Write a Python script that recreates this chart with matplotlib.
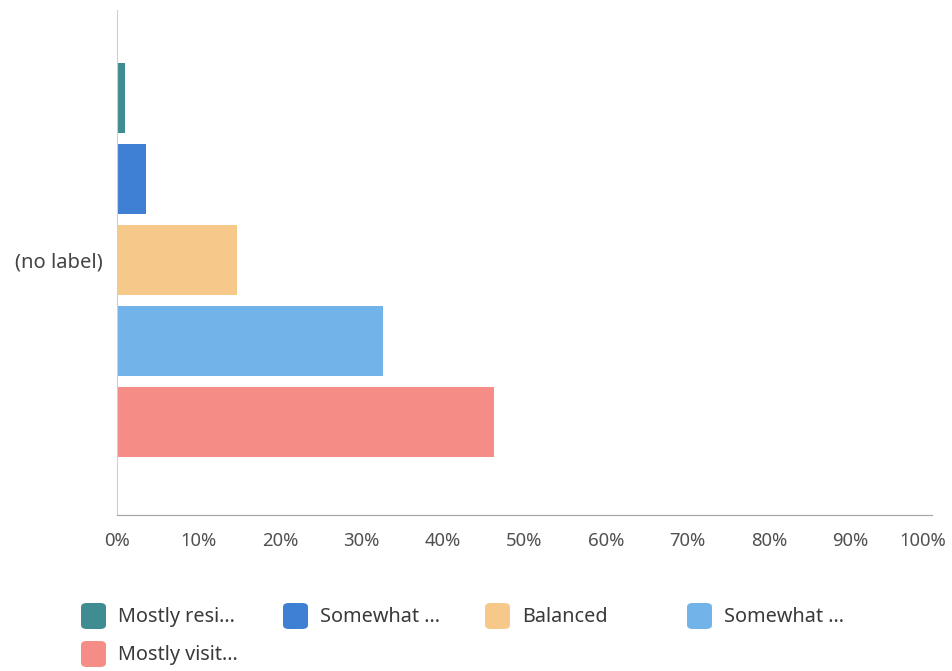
import matplotlib
matplotlib.use("Agg")
import matplotlib.pyplot as plt
import matplotlib.transforms as mtransforms
from matplotlib.patches import FancyBboxPatch

plt.rcParams['font.family'] = ['Noto Sans', 'DejaVu Sans']

# answer shares, in percent
answers = ['Mostly resi...', 'Somewhat ...', 'Balanced', 'Somewhat ...', 'Mostly visit...']
shares = [1.0, 3.6, 14.7, 32.6, 46.3]
colours = ['#3f8d93', '#3f80d4', '#f6c98a', '#72b4ea', '#f58c86']
category = '(no label)'
xticks = list(range(0, 101, 10))

fig = plt.figure(figsize=(9.53, 6.71), dpi=100)
ax = fig.add_axes([117 / 953, 1 - 515 / 671, (932 - 117) / 953, (515 - 10) / 671])

# one group of bars, one per answer, top to bottom
pos = list(range(len(shares)))
ax.barh(pos, shares, height=0.86, color=colours)
ax.set_ylim(5.15, -1.09)
ax.set_xlim(0, 100)

ax.set_yticks([2])
ax.set_yticklabels([category])
ax.set_xticks(xticks)
ax.set_xticklabels([f'{t}%' for t in xticks])
ax.tick_params(axis='x', length=0, pad=12, labelsize=13.3, labelcolor='#505050')
ax.tick_params(axis='y', length=0, pad=10, labelsize=14.5, labelcolor='#444444')

# last label sits a little inside the axis end
lab = ax.get_xticklabels()[-1]
lab.set_transform(lab.get_transform() + mtransforms.ScaledTranslation(-9 / 100, 0, fig.dpi_scale_trans))

for s in ['top', 'right']:
    ax.spines[s].set_visible(False)
ax.spines['left'].set_color('#d0d0d0')
ax.spines['left'].set_linewidth(0.8)
ax.spines['bottom'].set_color('#a8a8a8')
ax.spines['bottom'].set_linewidth(0.9)

# legend drawn by hand so every column gets the same width
W, H = 953, 671
for i, (name, c) in enumerate(zip(answers, colours)):
    col, row = i % 4, i // 4
    x0 = 81 + col * 202
    y0 = 603 + row * 38
    box = FancyBboxPatch((x0 / W, 1 - (y0 + 26) / H), 25 / W, 26 / H,
                         boxstyle='round,pad=0,rounding_size=0.006',
                         transform=fig.transFigure, facecolor=c, edgecolor='none')
    fig.patches.append(box)
    fig.text((x0 + 37) / W, 1 - (y0 + 14) / H, name, fontsize=14.3,
             color='#3a3a3a', va='center', ha='left')

fig.savefig('out.png', dpi=100)
